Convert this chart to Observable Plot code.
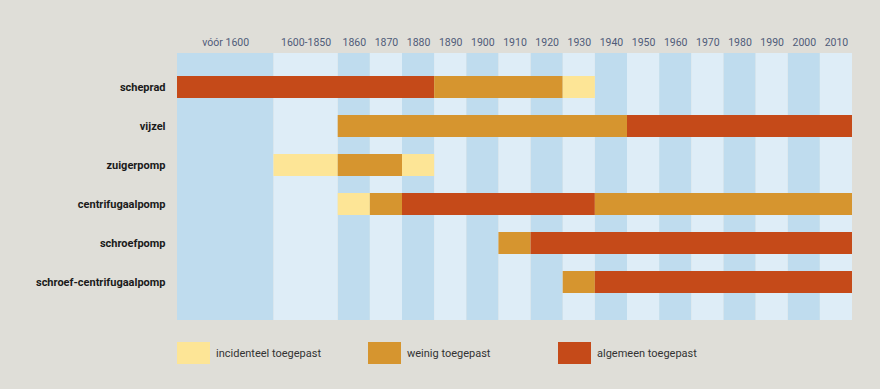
<!DOCTYPE html>
<html>
<head>
<meta charset="utf-8">
<script src="https://cdn.jsdelivr.net/npm/d3@7"></script>
<script src="https://cdn.jsdelivr.net/npm/@observablehq/plot@0.6"></script>
<style>
  html, body { margin: 0; padding: 0; background: #dfded8; }
  body { width: 880px; height: 389px; overflow: hidden; font-family: Roboto, "Noto Sans", sans-serif; }
  #legend { position: relative; height: 59px; }
  .item { position: absolute; top: 12px; display: flex; align-items: center; font-size: 11px; color: #333; }
  .sw { width: 33px; height: 22px; margin-right: 6px; }
</style>
</head>
<body>
<div id="chart"></div>
<div id="legend"></div>
<script>
// Column headers and how many grid units each spans
const columns = ["vóór 1600", "1600-1850", "1860", "1870", "1880", "1890", "1900", "1910", "1920", "1930", "1940", "1950", "1960", "1970", "1980", "1990", "2000", "2010"];
const columnSpans = [3, 2, 1, 1, 1, 1, 1, 1, 1, 1, 1, 1, 1, 1, 1, 1, 1, 1];

// Pumps (rows)
const pumps = ["scheprad", "vijzel", "zuigerpomp", "centrifugaalpomp", "schroefpomp", "schroef-centrifugaalpomp"];

// Usage levels
const levels = ["incidenteel toegepast", "weinig toegepast", "algemeen toegepast"];
const levelColors = ["#fde596", "#d6952f", "#c54a19"];

// Segments: pump, first column, last column, level index
const segPump  = ["scheprad", "scheprad", "scheprad", "vijzel", "vijzel", "zuigerpomp", "zuigerpomp", "zuigerpomp", "centrifugaalpomp", "centrifugaalpomp", "centrifugaalpomp", "centrifugaalpomp", "schroefpomp", "schroefpomp", "schroef-centrifugaalpomp", "schroef-centrifugaalpomp"];
const segFrom  = ["vóór 1600", "1890", "1930", "1860", "1950", "1600-1850", "1860", "1880", "1860", "1870", "1880", "1940", "1910", "1920", "1930", "1940"];
const segTo    = ["1880", "1920", "1930", "1940", "2010", "1600-1850", "1870", "1880", "1860", "1870", "1930", "2010", "1910", "2010", "1930", "2010"];
const segLevel = [2, 1, 0, 1, 2, 0, 1, 0, 0, 1, 2, 1, 1, 2, 1, 2];

// Build column table
let acc = 0;
const colTable = columns.map((c, i) => {
  const start = acc; acc += columnSpans[i];
  return {label: c, start, end: acc, mid: (start + acc) / 2, i};
});
const colByLabel = new Map(colTable.map(d => [d.label, d]));
const segments = segPump.map((p, i) => ({
  pump: p,
  start: colByLabel.get(segFrom[i]).start,
  end: colByLabel.get(segTo[i]).end,
  level: levels[segLevel[i]]
}));

const chart = Plot.plot({
  width: 880,
  height: 330,
  marginLeft: 177,
  marginRight: 28,
  marginTop: 53,
  marginBottom: 10,
  style: {background: "transparent", fontFamily: "Roboto, sans-serif"},
  x: {domain: [0, acc], axis: null},
  y: {type: "band", domain: pumps, paddingInner: 0.447, paddingOuter: 0.578, align: 0.457, axis: null},
  color: {domain: levels, range: levelColors},
  marks: [
    Plot.rect(colTable.filter(d => d.i % 2 === 0), {x1: "start", x2: "end", fill: "#bfdcee"}),
    Plot.rect(colTable.filter(d => d.i % 2 === 1), {x1: "start", x2: "end", fill: "#deedf7"}),
    Plot.text(colTable, {x: "mid", text: "label", frameAnchor: "top", dy: -11, fill: "#4f5b78", fontSize: 10.5, lineAnchor: "middle"}),
    Plot.barX(segments, {x1: "start", x2: "end", y: "pump", fill: "level"}),
    Plot.axisY({tickSize: 0, tickPadding: 12, fontSize: 11, fontWeight: "bold", color: "#1a1a1a", label: null})
  ]
});
document.getElementById("chart").appendChild(chart);

const legendLefts = [177, 368, 558];
const legend = document.getElementById("legend");
levels.forEach((l, i) => {
  const item = document.createElement("div");
  item.className = "item";
  item.style.left = legendLefts[i] + "px";
  item.innerHTML = `<div class="sw" style="background:${levelColors[i]}"></div><span>${l}</span>`;
  legend.appendChild(item);
});
</script>
</body>
</html>
